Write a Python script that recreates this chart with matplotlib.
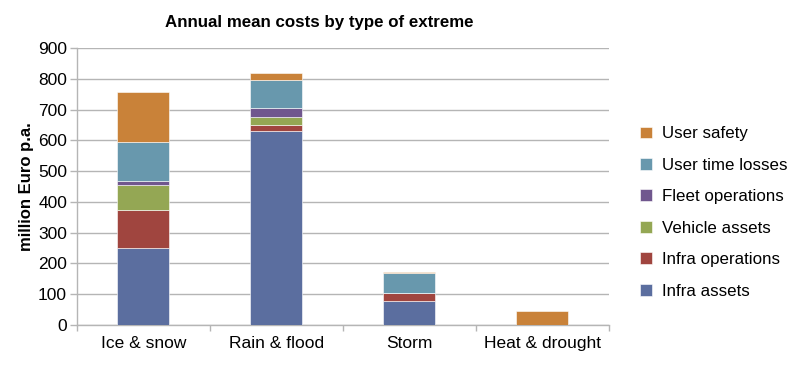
import matplotlib.pyplot as plt
import numpy as np

plt.rcParams['font.family'] = ['Liberation Sans', 'DejaVu Sans']

# Данные
categories = ['Ice & snow', 'Rain & flood', 'Storm', 'Heat & drought']
series = ['Infra assets', 'Infra operations', 'Vehicle assets',
          'Fleet operations', 'User time losses', 'User safety']
infra_assets = [250, 629, 76, 0]
infra_operations = [123, 21, 26, 0]
vehicle_assets = [81, 26, 0, 0]
fleet_operations = [13, 29, 0, 0]
user_time_losses = [128, 93, 66, 0]
user_safety = [161, 22, 5, 45]

values = [infra_assets, infra_operations, vehicle_assets,
          fleet_operations, user_time_losses, user_safety]
colors = ['#5b6e9f', '#a0453f', '#94a754', '#70578e', '#6898ad', '#c98239']

fig = plt.figure(figsize=(8, 3.65), dpi=100)
ax = fig.add_axes([0.096, 0.11, 0.665, 0.758])

x = np.arange(len(categories))
bottom = np.zeros(len(categories))
handles = []
for name, vals, c in zip(series, values, colors):
    b = ax.bar(x, vals, 0.39, bottom=bottom, color=c, label=name,
               edgecolor='white', linewidth=0.4, zorder=3)
    handles.append(b)
    bottom += np.array(vals)

ax.set_xlim(-0.5, len(categories) - 0.5)
ax.set_ylim(0, 900)
ax.set_yticks(np.arange(0, 901, 100))
ax.grid(axis='y', color='#b5b5b5', linewidth=1, zorder=0)

# подписи категорий без засечек, засечки между категориями
ax.set_xticks(x)
ax.set_xticklabels(categories, fontsize=12.5)
ax.tick_params(axis='x', length=0, pad=8)
ax.set_xticks(np.arange(-0.5, len(categories)), minor=True)
ax.tick_params(axis='x', which='minor', length=4, color='#b5b5b5', width=1)
ax.tick_params(axis='y', labelsize=12.5, length=5, color='#b5b5b5', width=1, pad=2)

for s in ['top', 'right']:
    ax.spines[s].set_visible(False)
for s in ['left', 'bottom']:
    ax.spines[s].set_color('#b5b5b5')
    ax.spines[s].set_linewidth(1)

ax.set_ylabel('million Euro p.a.', fontsize=12, fontweight='bold', labelpad=3)
fig.text(0.399, 0.937, 'Annual mean costs by type of extreme', fontsize=12.2,
         fontweight='bold', ha='center', va='center')

ax.legend(handles[::-1], series[::-1], loc='center left',
          bbox_to_anchor=(1.03, 0.406), frameon=False, fontsize=12.2,
          handlelength=0.7, handleheight=0.7, labelspacing=0.97,
          handletextpad=0.6)

fig.savefig('out.png', dpi=100)
